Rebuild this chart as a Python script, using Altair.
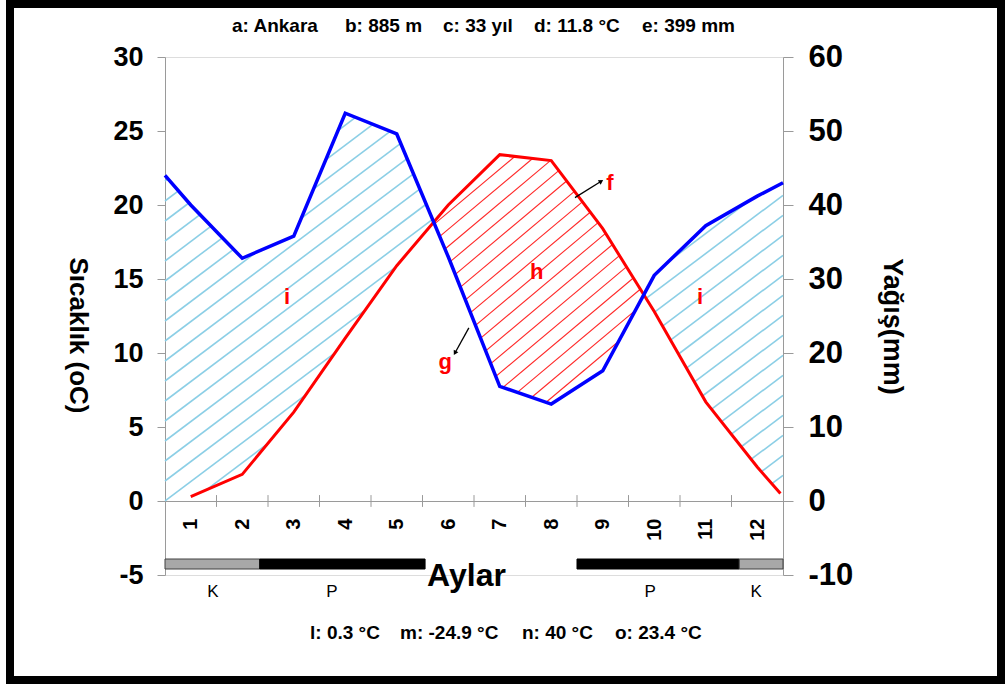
import numpy as np
import pandas as pd
import altair as alt

# ---------------- data ----------------
MONTHS = list(range(1, 13))
TEMP_C = [0.3, 1.8, 6.0, 11.0, 15.9, 20.0, 23.4, 23.0, 18.4, 12.8, 6.7, 2.3]
PRECIP_MM = [40.0, 32.8, 35.8, 52.4, 49.6, 33.0, 15.5, 13.1, 17.6, 30.5, 37.2, 41.2]
# line ends drawn out to the plot edges
PRECIP_EDGE_X = [0.5, 12.5]
PRECIP_EDGE_MM = [44.0, 43.0]
TEMP_END_X = [12.45]
TEMP_END_C = [0.5]

# frost periods (K = certain, P = possible), in month units
FROST_KIND = ["K", "P", "P", "K"]
FROST_START = [0.5, 2.34, 8.5, 11.65]
FROST_END = [2.34, 5.55, 11.65, 12.5]
FROST_LABEL_X = [1.43, 3.74, 9.92, 11.98]

TEMP_TICKS = [-5, 0, 5, 10, 15, 20, 25, 30]
PRECIP_TICKS = [-10, 0, 10, 20, 30, 40, 50, 60]
MONTH_BOUNDS = [1.5, 2.5, 3.5, 4.5, 5.5, 6.5, 7.5, 8.5, 9.5, 10.5, 11.5]

STATION = "Ankara"
ELEVATION_M = 885
YEARS = 33
MEAN_T = 11.8
TOTAL_P = 399
COLD_MONTH_T = 0.3
ABS_MIN_T = -24.9
ABS_MAX_T = 40
WARM_MONTH_T = 23.4

NOTE_TEXT = ["i", "i", "h", "f", "g"]
NOTE_X = [2.87, 10.89, 7.72, 9.14, 5.94]
NOTE_Y = [13.8, 13.8, 15.5, 21.5, 9.4]
ARROW_X1 = [8.46, 6.40]
ARROW_Y1 = [20.5, 11.7]
ARROW_X2 = [8.97, 6.13]
ARROW_Y2 = [21.6, 10.0]

# ---------------- layout ----------------
W, H = 618, 518
LEFT, TOP = 165, 57
SX = W / 12.0
SY = H / 35.0
FONT = "Liberation Sans"
GRAY = "#9a9a9a"

TOP_ITEMS = [f"a: {STATION}", f"b: {ELEVATION_M} m", f"c: {YEARS} yıl",
             f"d: {MEAN_T} °C", f"e: {TOTAL_P} mm"]
TOP_ITEM_PX = [232, 345, 443, 534, 642]
BOT_ITEMS = [f"l: {COLD_MONTH_T} °C", f"m: {ABS_MIN_T} °C", f"n: {ABS_MAX_T} °C",
             f"o: {WARM_MONTH_T} °C"]
BOT_ITEM_PX = [310, 400, 522, 615]

# ---------------- derived tables ----------------
p_x = PRECIP_EDGE_X[:1] + MONTHS + PRECIP_EDGE_X[1:]
p_v = PRECIP_EDGE_MM[:1] + PRECIP_MM + PRECIP_EDGE_MM[1:]
t_x = MONTHS + TEMP_END_X
t_v = TEMP_C + TEMP_END_C

precip_df = pd.DataFrame({"x": p_x, "mm": p_v})
temp_df = pd.DataFrame({"x": t_x, "t": t_v})

xs = np.linspace(0.5, 12.5, 6001)
upper = np.interp(xs, p_x, np.array(p_v) / 2.0)
lower = np.interp(xs, [0.5] + t_x + [12.5], [0.0] + t_v + [t_v[-1]])


def hatch(lo, hi, angle_deg, gap_px):
    k = np.tan(np.deg2rad(angle_deg)) * SX / SY
    base = xs - 0.5
    step = gap_px / SY
    c0 = np.floor((lo - k * base).min() / step) * step
    cs = np.arange(c0, (hi - k * base).max() + step, step)
    rows = []
    for c in cs:
        y = k * base + c
        inside = ((y >= lo) & (y <= hi)).astype(int)
        edges = np.flatnonzero(np.diff(np.r_[0, inside, 0]))
        for s, e in zip(edges[0::2], edges[1::2]):
            if e - s >= 3:
                rows.append({"x": xs[s], "y": y[s], "x2": xs[e - 1], "y2": y[e - 1]})
    return pd.DataFrame(rows)


blue_hatch = hatch(lower, upper, 37, 20)
red_hatch = hatch(upper, lower, 40, 17)

frost_df = pd.DataFrame({"kind": FROST_KIND, "x": FROST_START, "x2": FROST_END,
                         "lx": FROST_LABEL_X,
                         "solid": [k == "P" for k in FROST_KIND]})
notes_df = pd.DataFrame({"txt": NOTE_TEXT, "x": NOTE_X, "y": NOTE_Y})
arrows_df = pd.DataFrame({"x": ARROW_X1, "y": ARROW_Y1, "x2": ARROW_X2, "y2": ARROW_Y2})
arrows_df["ang"] = np.degrees(np.arctan2((arrows_df.x2 - arrows_df.x) * SX,
                                         (arrows_df.y2 - arrows_df.y) * SY)) % 360
bounds_df = pd.DataFrame({"x": MONTH_BOUNDS})
top_df = pd.DataFrame({"txt": TOP_ITEMS, "px": [p - LEFT for p in TOP_ITEM_PX]})
bot_df = pd.DataFrame({"txt": BOT_ITEMS, "px": [p - LEFT for p in BOT_ITEM_PX]})
one = pd.DataFrame({"a": [0]})

# ---------------- encodings ----------------
PLAIN = "'' + datum.value"   # hyphen-minus like the original
xscale = alt.Scale(domain=[0.5, 12.5], nice=False, zero=False)
yscale = alt.Scale(domain=[-5, 30], nice=False, zero=False)
xaxis = alt.Axis(values=MONTHS, labelAngle=270, labelFontSize=20, labelFontWeight="bold",
                 labelColor="black", ticks=False, domainColor=GRAY, grid=False,
                 offset=-(5 * SY), labelPadding=17, labelFlush=False, labelOverlap=False,
                 title="Aylar", titleFontSize=32, titleFontWeight="bold", titleColor="black",
                 titleX=301, titleY=84, titleBaseline="alphabetic", titleAlign="center")
yaxis = alt.Axis(values=TEMP_TICKS, labelExpr=PLAIN, labelFontSize=27,
                 labelFontWeight="bold",
                 labelColor="black", tickSize=8, tickColor=GRAY, domainColor=GRAY,
                 labelPadding=14, grid=False, title="Sıcaklık (oC)", titleFontSize=26,
                 titleFontWeight="bold", titleColor="black", titleAngle=90, titleX=-88,
                 titleY=278, titleAlign="center", titleBaseline="middle")


def X(field):
    return alt.X(field, type="quantitative", scale=xscale, axis=xaxis)


def Y(field):
    return alt.Y(field, type="quantitative", scale=yscale, axis=yaxis)


frame = alt.Chart(one).mark_rect(filled=False, stroke="black", strokeWidth=8).encode(
    x=alt.value(-155), x2=alt.value(836), y=alt.value(-53), y2=alt.value(623))

hb = alt.Chart(blue_hatch).mark_rule(color="#8ccfe6", strokeWidth=1.6).encode(
    x=X("x"), y=Y("y"), x2="x2", y2="y2")
rh = alt.Chart(red_hatch).mark_rule(color="#ff2a2a", strokeWidth=1.1).encode(
    x=X("x"), y=Y("y"), x2="x2", y2="y2")

ticks = alt.Chart(bounds_df).mark_rule(color=GRAY, strokeWidth=1).encode(
    x=X("x"), y=alt.datum(-0.4), y2=alt.datum(0.4))

bars = alt.Chart(frost_df).mark_rect(strokeWidth=1).encode(
    x=X("x"), x2="x2", y=alt.value(502), y2=alt.value(512),
    fill=alt.condition("datum.solid", alt.value("black"), alt.value("#a8a8a8")),
    stroke=alt.condition("datum.solid", alt.value("black"), alt.value("#404040")))
bar_labels = alt.Chart(frost_df).mark_text(fontSize=17, font=FONT, color="black",
                                           baseline="middle").encode(
    x=X("lx"), y=alt.value(535), text="kind")

red_line = alt.Chart(temp_df).mark_line(color="#ff0000", strokeWidth=3).encode(
    x=X("x"), y=Y("t"))

notes = alt.Chart(notes_df).mark_text(fontSize=22, fontWeight="bold", font=FONT,
                                      color="#ff0000", baseline="middle").encode(
    x=X("x"), y=Y("y"), text="txt")
arrow_lines = alt.Chart(arrows_df).mark_rule(color="black", strokeWidth=1.3).encode(
    x=X("x"), y=Y("y"), x2="x2", y2="y2")
arrow_heads = alt.Chart(arrows_df).mark_point(shape="triangle-up", filled=True, size=28,
                                              color="black", opacity=1).encode(
    x=X("x2"), y=Y("y2"), angle=alt.Angle("ang:Q", scale=None))

top_text = alt.Chart(top_df).mark_text(fontSize=19, fontWeight="bold", font=FONT,
                                       align="left", baseline="middle", color="black").encode(
    x=alt.X("px:Q", scale=None), y=alt.value(26 - TOP), text="txt")
bot_text = alt.Chart(bot_df).mark_text(fontSize=19, fontWeight="bold", font=FONT,
                                       align="left", baseline="middle", color="black").encode(
    x=alt.X("px:Q", scale=None), y=alt.value(633 - TOP), text="txt")

left = alt.layer(hb, rh, ticks, bars, bar_labels, red_line, notes, arrow_lines,
                 arrow_heads, frame)

blue_line = alt.Chart(precip_df).mark_line(color="#0000ff", strokeWidth=3.5).encode(
    x=X("x"),
    y=alt.Y("mm:Q", scale=alt.Scale(domain=[-10, 60], nice=False, zero=False),
            axis=alt.Axis(orient="right", values=PRECIP_TICKS, labelExpr=PLAIN,
                          labelFontSize=31,
                          labelFontWeight="bold", labelColor="black", tickSize=10,
                          tickColor=GRAY, domainColor=GRAY, labelPadding=15, grid=False,
                          title="Yağış(mm)", titleFontSize=27, titleFontWeight="bold",
                          titleColor="black", titleAngle=90, titleX=108, titleY=269,
                          titleAlign="center", titleBaseline="middle")))

chart = alt.layer(left, blue_line, top_text, bot_text).resolve_scale(
    y="independent"
).properties(
    width=W, height=H,
    padding={"left": LEFT, "top": TOP, "right": 1005 - LEFT - W, "bottom": 684 - TOP - H},
    autosize=alt.AutoSizeParams(type="none"),
    background="white",
).configure_view(stroke=None).configure(font=FONT)

chart.save("out.html", embed_options={"renderer": "svg", "actions": False})
